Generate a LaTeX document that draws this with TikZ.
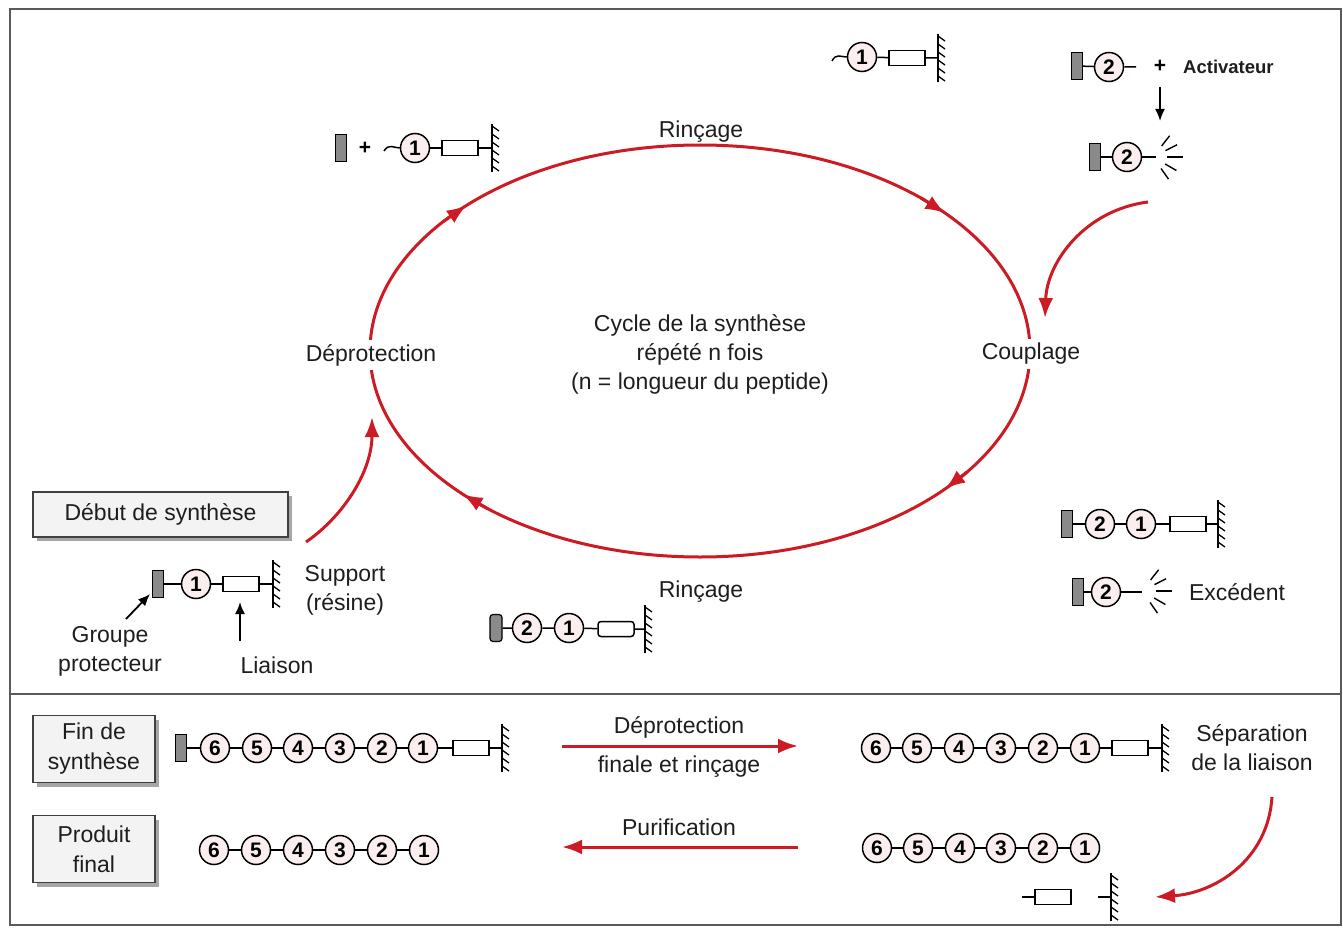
\documentclass[tikz,border=0pt]{standalone}
\usepackage{fontspec}
\setmainfont{Liberation Sans}
\usetikzlibrary{arrows.meta,calc,shadows}
\definecolor{rd}{HTML}{CC1B24}
\definecolor{pgray}{HTML}{8A8A8A}
\definecolor{pinkf}{HTML}{FAEEEE}
\definecolor{boxf}{HTML}{F3F3F3}
\definecolor{frm}{HTML}{5A5A5A}
\definecolor{txt}{HTML}{1E1E1E}
\begin{document}
\begin{tikzpicture}[x=1pt,y=-1pt,
  aa/.style={circle,draw,line width=1.5pt,fill=pinkf,minimum size=29pt,inner sep=0pt,font=\bfseries\fontsize{21}{21}\selectfont},
  pg/.style={rectangle,draw,line width=1.2pt,fill=pgray,minimum width=11pt,minimum height=27pt,inner sep=0pt},
  lk/.style={rectangle,draw,line width=1.5pt,fill=white,minimum width=36pt,minimum height=15pt,inner sep=0pt},
  bond/.style={line width=1.5pt},
  lbl/.style={text=txt,font=\fontsize{23}{29}\selectfont,align=center,inner sep=2pt},
  plus/.style={font=\bfseries\fontsize{21}{21}\selectfont,inner sep=0pt},
  redarr/.style={draw=rd,line width=3pt,-{Latex[length=20pt,width=15pt]}},
  blkarr/.style={line width=1.8pt,-{Latex[length=12pt,width=10pt]}},
  titlebox/.style={draw=black!75,line width=1.4pt,fill=boxf,text=txt,align=center,
     font=\fontsize{23}{30}\selectfont,
     drop shadow={shadow xshift=4pt,shadow yshift=-4pt,fill=black!35,opacity=1}},
  wall/.pic={\draw[line width=1.6pt] (0,-24)--(0,24);
     \foreach \t in {-22,-14,-6,2,10,18} \draw[line width=1.3pt] (0,\t)--++(7,5);},
  burst/.pic={\foreach \a/\r in {-52/27,-27/27,0/30,30/27,55/27}
     \draw[line width=1.4pt] (\a:14) -- (\a:\r);}
]
\useasboundingbox (0,0) rectangle (1343,928);
\fill[white] (0,0) rectangle (1343,928);
% frame
\draw[frm,line width=2pt] (10,9) rectangle (1341,925);
\draw[frm,line width=2pt] (10,694) -- (1341,694);

% ---------------- cycle ----------------
\coordinate (ec) at (700,351);
\draw[rd,line width=3pt] (ec) ellipse [x radius=330, y radius=206];
\foreach \a in {-135,-42,42,136}
  \draw[redarr] ($(ec)+({330*cos(\a-6)},{206*sin(\a-6)})$) -- ($(ec)+({330*cos(\a)},{206*sin(\a)})$);

\node[lbl] (rin1) at (701,132) {Rinçage};
\node[lbl] (rin2) at (701,592) {Rinçage};
\node[lbl,fill=white,inner sep=4pt] (depro) at (371,355) {Déprotection};
\node[lbl,fill=white,inner sep=4pt] (coupl) at (1031,354) {Couplage};
\node[lbl] (ctr) at (700,354) {Cycle de la synthèse\\répété n fois\\(n = longueur du peptide)};

% top-left: PG + ~1-linker-wall
\node[pg] (tlpg) at (341,148) {};
\node[plus] (tlplus) at (365,148) {+};
\node[aa] (tl1) at (415,148) {1};
\coordinate (tltil) at (384,151);
\draw[bond] (tltil) .. controls (389,143) and (394,148) .. (tl1.west);
\node[lk] (tllk) at (460,148) {};
\coordinate (tlw) at (492,148);
\draw[bond] (tl1) -- (tllk) -- (tlw);
\pic at (tlw) {wall};

% top-middle: ~1-linker-wall
\node[aa] (tm1) at (862,57) {1};
\coordinate (tmtil) at (832,61);
\draw[bond] (tmtil) .. controls (836,53) and (841,57) .. (tm1.west);
\node[lk] (tmlk) at (907,58) {};
\coordinate (tmw) at (938,58);
\draw[bond] (tm1) -- (tmlk) -- (tmw);
\pic at (tmw) {wall};

% top-right: PG-2 + Activateur
\node[pg] (trpg) at (1077,66) {};
\node[aa] (tr2) at (1109,67) {2};
\coordinate (trt) at (1136,67);
\draw[bond] (trpg) -- (tr2) -- (trt);
\node[plus] (trplus) at (1160,66) {+};
\node[anchor=west,text=txt,font=\bfseries\fontsize{18.5}{18.5}\selectfont,inner sep=0pt] (act) at (1183,67) {Activateur};
\coordinate (actA) at (1160,87);
\coordinate (actB) at (1160,121);
\draw[blkarr] (actA) -- (actB);
\node[pg] (arpg) at (1095,157) {};
\node[aa] (ar2) at (1127,157) {2};
\coordinate (art) at (1156,157);
\draw[bond] (arpg) -- (ar2) -- (art);
\pic at (1153,157) {burst};

% curve to Couplage
\coordinate (cA) at (1148,202);
\coordinate (cB) at (1045,318);
\draw[redarr] (cA) .. controls (1085,210) and (1047,262) .. (cB);

% Debut de synthese
\node[titlebox,minimum width=255pt,minimum height=45pt] (debut) at (160.5,514.5) {Début de synthèse};
\node[pg] (dpg) at (158,584) {};
\node[aa] (d1) at (196,584) {1};
\node[lk] (dlk) at (241,584) {};
\coordinate (dw) at (273,584);
\draw[bond] (dpg) -- (d1) -- (dlk) -- (dw);
\pic at (dw) {wall};
\node[lbl] (supp) at (345,590) {Support\\(résine)};
\node[lbl] (grp) at (110,651) {Groupe\\protecteur};
\node[lbl] (liai) at (277,665) {Liaison};
\coordinate (gA) at (126,619);
\coordinate (gB) at (150,594);
\draw[blkarr] (gA) -- (gB);
\coordinate (lA) at (240,641);
\coordinate (lB) at (240,602);
\draw[blkarr] (lA) -- (lB);
\coordinate (sA) at (306,542);
\coordinate (sB) at (372,417);
\draw[redarr] (sA) .. controls (345,515) and (372,470) .. (sB);

% bottom middle chain
\node[pg,rounded corners=3pt,minimum width=12pt] (bmpg) at (496,628) {};
\node[aa] (bm2) at (527,628) {2};
\node[aa] (bm1) at (569,628) {1};
\node[lk,rounded corners=3pt] (bmlk) at (616,629) {};
\coordinate (bmw) at (645,629);
\draw[bond] (bmpg) -- (bm2) -- (bm1) -- (bmlk) -- (bmw);
\pic at (bmw) {wall};

% right: after coupling
\node[pg] (r1pg) at (1067,524) {};
\node[aa] (r12) at (1100,524) {2};
\node[aa] (r11) at (1141,524) {1};
\node[lk] (r1lk) at (1188,524) {};
\coordinate (r1w) at (1218,524);
\draw[bond] (r1pg) -- (r12) -- (r11) -- (r1lk) -- (r1w);
\pic at (r1w) {wall};
\node[pg] (r2pg) at (1078,592) {};
\node[aa] (r22) at (1106,592) {2};
\coordinate (r2t) at (1142,592);
\draw[bond] (r2pg) -- (r22) -- (r2t);
\pic at (1142,591) {burst};
\node[lbl] (exc) at (1237,592) {Excédent};

% ---------------- bottom panel ----------------
\node[titlebox,minimum width=122pt,minimum height=67pt] (fin) at (94,749) {Fin de\\synthèse};
\node[pg] (fpg) at (181,748) {};
\foreach \n/\x in {6/215,5/257,4/298,3/340,2/382,1/423}
  \node[aa] (f\n) at (\x,748) {\n};
\node[lk] (flk) at (471,748) {};
\coordinate (fw) at (502,748);
\draw[bond] (fpg) -- (f6) -- (f5) -- (f4) -- (f3) -- (f2) -- (f1) -- (flk) -- (fw);
\pic at (fw) {wall};

\node[lbl] (dpf1) at (679,727) {Déprotection};
\node[lbl] (dpf2) at (679,767) {finale et rinçage};
\coordinate (fA) at (562,746);
\coordinate (fB) at (798,746);
\draw[redarr] (fA) -- (fB);

\foreach \n/\x in {6/876,5/917,4/959,3/1001,2/1043,1/1085}
  \node[aa] (s\n) at (\x,748) {\n};
\node[lk] (slk) at (1130,748) {};
\coordinate (sw) at (1162,748);
\draw[bond] (s6) -- (s5) -- (s4) -- (s3) -- (s2) -- (s1) -- (slk) -- (sw);
\pic at (sw) {wall};
\node[lbl] (sep) at (1252,748) {Séparation\\de la liaison};

\coordinate (kA) at (1272,797);
\coordinate (kB) at (1155,897);
\draw[redarr] (kA) .. controls (1268,860) and (1215,893) .. (kB);

\node[titlebox,minimum width=122pt,minimum height=67pt] (prod) at (94,849) {Produit\\final};
\foreach \n/\x in {6/214,5/256,4/298,3/340,2/382,1/424}
  \node[aa] (p\n) at (\x,850) {\n};
\draw[bond] (p6) -- (p5) -- (p4) -- (p3) -- (p2) -- (p1);

\node[lbl] (pur) at (679,827) {Purification};
\coordinate (pA) at (798,847);
\coordinate (pB) at (562,847);
\draw[redarr] (pA) -- (pB);

\foreach \n/\x in {6/877,5/918,4/960,3/1001,2/1043,1/1085}
  \node[aa] (q\n) at (\x,848) {\n};
\draw[bond] (q6) -- (q5) -- (q4) -- (q3) -- (q2) -- (q1);

\coordinate (ltA) at (1022,897);
\node[lk] (llk) at (1053,897) {};
\draw[bond] (ltA) -- (llk);
\coordinate (wtA) at (1098,897);
\coordinate (lw) at (1111,897);
\draw[bond] (wtA) -- (lw);
\pic at (lw) {wall};
\end{tikzpicture}
\end{document}
